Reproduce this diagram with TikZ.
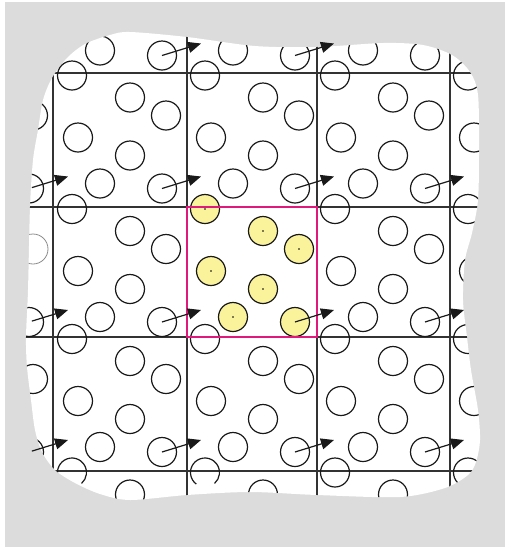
\documentclass[tikz,border=0pt]{standalone}
\usetikzlibrary{arrows.meta}
\definecolor{bggray}{HTML}{DCDCDC}
\definecolor{cellmag}{HTML}{E0197D}
\definecolor{pyellow}{HTML}{FAF39C}
\definecolor{gridcol}{HTML}{333333}
\begin{document}
\begin{tikzpicture}[x=1pt,y=-1pt,
  gridline/.style={draw=gridcol,line width=1.2pt},
  particle/.style={circle,draw=black!90,line width=1.2pt,minimum size=29pt,inner sep=0pt},
  yparticle/.style={particle,fill=pyellow},
  ghost/.style={circle,draw=black!45,line width=0.8pt,minimum size=30pt,inner sep=0pt},
  vel/.style={draw=black!90,line width=1.2pt,-{Triangle[length=13pt,width=11pt]}},
  cellbox/.style={draw=cellmag,line width=2.8pt},
  blobfill/.style={fill=white}]
\useasboundingbox (0,0) rectangle (505,547);
\fill[white] (0,0) rectangle (505,547);
\fill[bggray] (5,2) rectangle (505,547);
\def\blobpath{plot[smooth cycle,tension=0.5] coordinates{
 (38,130) (43,100) (52,78) (67,58) (85,44) (110,35) (130,32) (187,37) (255,46)
 (317,47) (383,43) (423,45) (452,55) (470,72) (478,95) (479,150) (478,200)
 (472,233) (465,260) (463,300) (467,337) (471,370) (478,410) (480,440)
 (476,462) (468,475) (445,488) (400,497) (317,495) (250,492) (187,495)
 (130,500) (100,494) (75,483) (55,470) (42,452) (35,430) (31,400) (27,367)
 (26,337) (28,290) (30,207) (33,160)}}
\fill[white] \blobpath;
\begin{scope}
\clip \blobpath;
% grid
\draw[gridline] (53,73) -- (505,73);
\draw[gridline] (0,207) -- (505,207);
\draw[gridline] (0,337) -- (505,337);
\draw[gridline] (53,471) -- (505,471);
\draw[gridline] (53,73) -- (53,471);
\draw[gridline] (187,0) -- (187,547);
\draw[gridline] (317,0) -- (317,547);
\draw[gridline] (450,0) -- (450,547);
% particles (periodic images)
\foreach \cx/\ci in {-79/a,54/b,187/c,317/d,450/e}{
 \foreach \cy/\cj in {-59.5/a,73.5/b,207/c,337/d,470.5/e}{
  \foreach \dx/\dy/\k in {18/2/1,76/24/2,112/42/3,24/64/4,76/82/5,46/110/6,108/115/7}{
   \pgfmathsetmacro{\px}{\cx+\dx}
   \pgfmathsetmacro{\py}{\cy+\dy}
   \ifnum\pdfstrcmp{\ci\cj}{cc}=0
     \node[yparticle] (p-\ci\cj-\k) at (\px,\py) {};
   \else\ifnum\pdfstrcmp{\ci\cj\k}{ac3}=0
     \node[ghost] (p-\ci\cj-\k) at (\px,\py) {};
   \else\ifnum\pdfstrcmp{\ci\cj\k}{be1}=0
     \coordinate (p-\ci\cj-\k) at (\px,\py);
   \else\ifnum\pdfstrcmp{\ci\cj\k}{ce1}=0
     \coordinate (p-\ci\cj-\k) at (\px,\py);
   \else\ifnum\pdfstrcmp{\ci\cj}{aa}=0
   \else\ifnum\dy<100 \ifnum\pdfstrcmp{\cj}{a}=0 \else
     \node[particle] (p-\ci\cj-\k) at (\px,\py) {};\fi
   \else
     \node[particle] (p-\ci\cj-\k) at (\px,\py) {};
   \fi\fi\fi\fi\fi\fi
  }}}
% bottom particles drawn as open arcs
\draw[draw=black!90,line width=1.2pt] (p-be-1) ++(127:14.5) arc[start angle=127,end angle=409,radius=14.5];
\draw[draw=black!90,line width=1.2pt] (p-ce-1) ++(127:14.5) arc[start angle=127,end angle=409,radius=14.5];
\end{scope}
% highlighted cell
\node[cellbox,minimum width=130pt,minimum height=130pt,inner sep=0pt] (cell) at (252,272) {};
% centre dots of highlighted particles
\foreach \k in {1,...,6}{\fill[black] (p-cc-\k.center) circle[radius=0.8];}
% velocity arrows
\foreach \n in {ba,ca}{
  \path (p-\n-7.center) ++(39,-12) coordinate (t-\n);
  \draw[vel] (p-\n-7.center) -- (t-\n);}
\foreach \n in {bb,cb,db,bc,cc,dc,bd,cd,dd}{
  \path (p-\n-7.center) ++(39,-12) coordinate (t-\n);
  \draw[vel] (p-\n-7.center) -- (t-\n);}
\foreach \n in {ab,ac,ad}{
  \path (p-\n-7.center) ++(39,-12) coordinate (t-\n);
  \draw[vel,shorten <=3pt] (p-\n-7.center) -- (t-\n);}
\end{tikzpicture}
\end{document}
